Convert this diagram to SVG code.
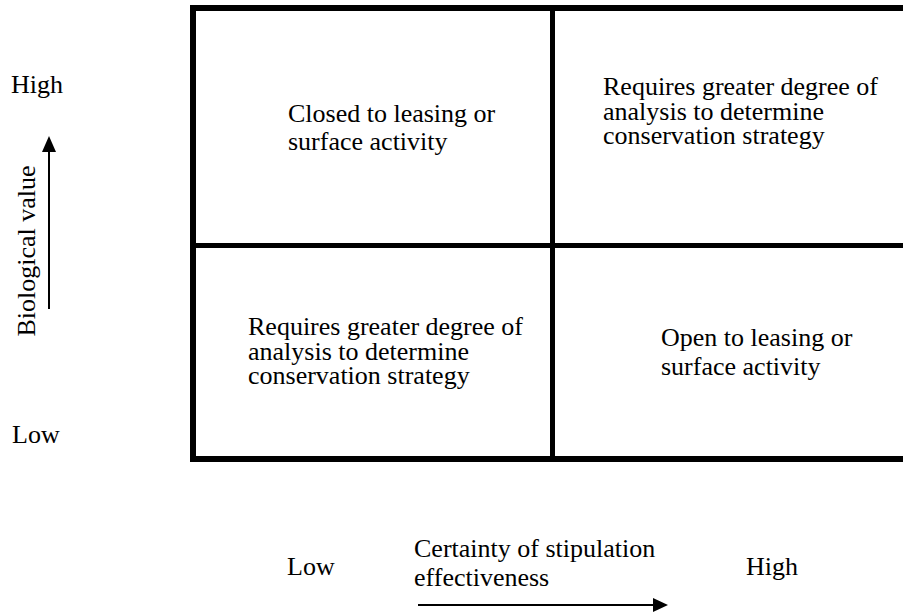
<svg xmlns="http://www.w3.org/2000/svg" width="903" height="613" viewBox="0 0 903 613">
<style>
text{font-family:"Liberation Serif","Times New Roman",serif;font-size:26px;fill:#000}
.grid{fill:none;stroke:#000}
.ax{stroke:#000;stroke-width:2;fill:none}
.head{fill:#000}
</style>
<rect width="903" height="613" fill="#fff"/>
<g id="grid">
<rect class="grid" x="193" y="8" width="713" height="451" stroke-width="6"/>
<line class="grid" x1="193" y1="245.5" x2="906" y2="245.5" stroke-width="5"/>
<line class="grid" x1="552.5" y1="8" x2="552.5" y2="459" stroke-width="5"/>
</g>
<g id="cell-top-left">
<text x="288" y="122">Closed to leasing or<tspan x="288" dy="28">surface activity</tspan></text>
</g>
<g id="cell-top-right">
<text x="603" y="95">Requires greater degree of<tspan x="603" dy="24.5">analysis to determine</tspan><tspan x="603" dy="24.5">conservation strategy</tspan></text>
</g>
<g id="cell-bottom-left">
<text x="248" y="335">Requires greater degree of<tspan x="248" dy="24.5">analysis to determine</tspan><tspan x="248" dy="24.5">conservation strategy</tspan></text>
</g>
<g id="cell-bottom-right">
<text x="661" y="346">Open to leasing or<tspan x="661" dy="29">surface activity</tspan></text>
</g>
<g id="y-axis-labels">
<text x="11" y="93">High</text>
<text x="12" y="443">Low</text>
<text transform="translate(35,251) rotate(-90)" text-anchor="middle">Biological value</text>
</g>
<g id="x-axis-labels">
<text x="287" y="575">Low</text>
<text x="414" y="557">Certainty of stipulation<tspan x="414" dy="29">effectiveness</tspan></text>
<text x="746" y="575">High</text>
</g>
<g id="connectors">
<line class="ax" x1="49" y1="309" x2="49" y2="150"/>
<polygon class="head" points="49,136 42,152 56,152"/>
<line class="ax" x1="418" y1="605" x2="655" y2="605"/>
<polygon class="head" points="668,605 653,598 653,612"/>
</g>
</svg>
